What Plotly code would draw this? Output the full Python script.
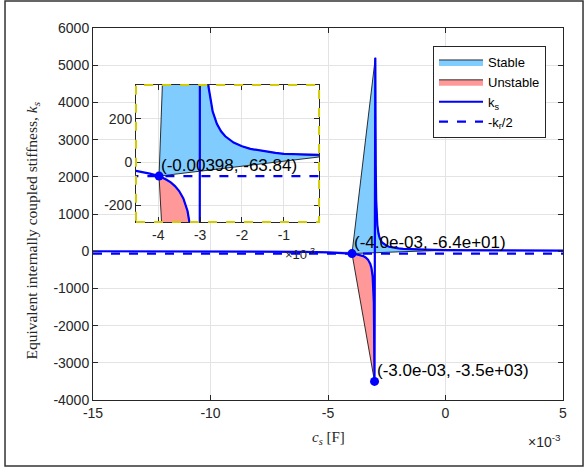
import plotly.graph_objects as go

# Coupling capacitance c_s (x 1e-3 F) and equivalent stiffness k_s, left branch (c_s < -3e-3)
c_left = [-15, -12, -10, -8, -7, -6, -5, -4.5, -4.2, -3.98, -3.8, -3.7, -3.6, -3.5,
          -3.4, -3.3, -3.2, -3.15, -3.1, -3.07, -3.05, -3.02]
k_left = [-0.7, -2.7, -4.8, -8.8, -12.2, -18, -29.5, -41, -52.4, -63.84, -81, -93, -110, -133,
          -167, -225, -340, -454, -684, -979, -1378, -3500]

# Right branch (c_s > -3e-3)
c_right = [-2.987, -2.98, -2.97, -2.95, -2.9, -2.85, -2.8, -2.7, -2.6, -2.5, -2.4, -2.2,
           -2.0, -1.8, -1.5, -1.2, -1.0, -0.5, 0, 1, 2, 3, 4, 5]
k_right = [5200, 3450, 2300, 1385, 695, 465, 350, 235, 178, 143, 120, 91,
           74, 62, 51, 43, 39, 33, 28, 22, 19, 16, 14, 13]

# -k_r/2 threshold and the marked points
kr_half = 63.84
cross_c, cross_k = -3.98, -63.84
tip_c, tip_k = -3.02, -3500

x_ticks = [-15, -10, -5, 0, 5]
y_ticks = [-4000, -3000, -2000, -1000, 0, 1000, 2000, 3000, 4000, 5000, 6000]
inset_x_ticks = [-4, -3, -2, -1]
inset_y_ticks = [-200, 0, 200]

BLUE = "#0000FF"
STABLE = "#80CCFF"
UNSTABLE = "#FF9999"
AX = "#262626"
GRID = "#E3E3E3"
SANS = "Liberation Sans, Arial, sans-serif"
SERIF = "Liberation Serif, Times New Roman, serif"

# Stable patch: crossing point -> right branch up to c_s = 0 -> back to crossing point
n0 = c_right.index(0)
stable_x = [cross_c] + c_right[:n0 + 1] + [cross_c]
stable_y = [cross_k] + k_right[:n0 + 1] + [cross_k]
# Unstable patch: crossing point -> left branch down to the asymptote
i0 = c_left.index(cross_c)
unstable_x = c_left[i0:] + [cross_c]
unstable_y = k_left[i0:] + [cross_k]

curve_x = c_left + c_right
curve_y = k_left + k_right

fig = go.Figure()


def add_set(xa, ya, legend, mk_points):
    fig.add_trace(go.Scatter(x=stable_x, y=stable_y, fill="toself", fillcolor=STABLE,
                             mode="lines", line=dict(color="black", width=0.8),
                             name="Stable", showlegend=legend, xaxis=xa, yaxis=ya,
                             hoverinfo="skip"))
    fig.add_trace(go.Scatter(x=unstable_x, y=unstable_y, fill="toself", fillcolor=UNSTABLE,
                             mode="lines", line=dict(color="black", width=0.8),
                             name="Unstable", showlegend=legend, xaxis=xa, yaxis=ya,
                             hoverinfo="skip"))
    fig.add_trace(go.Scatter(x=curve_x, y=curve_y, mode="lines",
                             line=dict(color=BLUE, width=2.2),
                             name="k<sub>s</sub>", showlegend=legend, xaxis=xa, yaxis=ya))
    fig.add_trace(go.Scatter(x=[-15, 5], y=[-kr_half, -kr_half], mode="lines",
                             line=dict(color=BLUE, width=2.2, dash="dash"),
                             name="-k<sub>r</sub>/2", showlegend=legend, xaxis=xa, yaxis=ya))
    fig.add_trace(go.Scatter(x=[p[0] for p in mk_points], y=[p[1] for p in mk_points],
                             mode="markers", marker=dict(color=BLUE, size=9),
                             showlegend=False, xaxis=xa, yaxis=ya))


add_set("x", "y", True, [(cross_c, cross_k), (tip_c, tip_k)])
add_set("x2", "y2", False, [(cross_c, cross_k)])

inset_dom_x = [0.0915, 0.481]
inset_dom_y = [0.4785, 0.8468]

axis_common = dict(showline=True, linecolor=AX, linewidth=1, mirror="ticks",
                   ticks="inside", ticklen=5, tickcolor=AX, showgrid=True,
                   gridcolor=GRID, gridwidth=1, zeroline=False,
                   tickfont=dict(family=SANS, size=14, color=AX))

fig.update_layout(
    width=585, height=468,
    margin=dict(l=93, r=22, t=28, b=68),
    paper_bgcolor="white", plot_bgcolor="white",
    showlegend=True,
    xaxis=dict(range=[-15, 5], tickvals=x_ticks, ticktext=[str(v) for v in x_ticks],
               domain=[0, 1], **axis_common),
    yaxis=dict(range=[-4000, 6000], tickvals=y_ticks, ticktext=[str(v) for v in y_ticks],
               domain=[0, 1], **axis_common),
    xaxis2=dict(range=[-4.53, -0.16], tickvals=inset_x_ticks,
                ticktext=[str(v) for v in inset_x_ticks], domain=inset_dom_x,
                anchor="y2", **axis_common),
    yaxis2=dict(range=[-276, 357], tickvals=inset_y_ticks,
                ticktext=[str(v) for v in inset_y_ticks], domain=inset_dom_y,
                anchor="x2", **axis_common),
    legend=dict(x=0.7234, y=0.9516, xanchor="left", yanchor="top",
                bgcolor="white", bordercolor=AX, borderwidth=1,
                font=dict(family=SANS, size=13, color="black"),
                itemwidth=44, tracegroupgap=0),
)

# Dashed frame around the inset and an outer frame around the figure
fig.add_shape(type="rect", xref="paper", yref="paper",
              x0=inset_dom_x[0], x1=inset_dom_x[1], y0=inset_dom_y[0], y1=inset_dom_y[1],
              line=dict(color="#D2CC00", width=2, dash="dash"), layer="above")
fig.add_shape(type="rect", xref="paper", yref="paper",
              x0=-0.1872, x1=1.0426, y0=-0.1774, y1=1.0726,
              line=dict(color="#333333", width=1.5), layer="above")

# Data tips
def tip_label(c, k, fmt):
    if fmt == "e":
        return f"({c * 1e-3:.1e}, {k:.1e})"
    return f"({c * 1e-3:g}, {k:g})"

for (c, k, xr, yr, fmt) in [(cross_c, cross_k, "x", "y", "e"),
                            (tip_c, tip_k, "x", "y", "e"),
                            (cross_c, cross_k, "x2", "y2", "g")]:
    fig.add_annotation(x=c, y=k, xref=xr, yref=yr, text=tip_label(c, k, fmt),
                       showarrow=False, xanchor="left", yanchor="middle",
                       xshift=0, yshift=11,
                       font=dict(family=SANS, size=17, color="black"))

# Axis titles and exponent labels
fig.add_annotation(x=0.5, y=-0.102, xref="paper", yref="paper", showarrow=False,
                   text="<i>c<sub>s</sub></i> [F]", xanchor="center", yanchor="middle",
                   font=dict(family=SERIF, size=15, color=AX))
fig.add_annotation(x=-0.128, y=0.455, xref="paper", yref="paper", showarrow=False,
                   text="Equivalent internally coupled stiffness, <i>k<sub>s</sub></i>",
                   textangle=-90, xanchor="center", yanchor="middle",
                   font=dict(family=SERIF, size=15.5, color=AX))
fig.add_annotation(x=1.0, y=-0.11, xref="paper", yref="paper", showarrow=False,
                   text="×10<sup>-3</sup>", xanchor="right", yanchor="middle",
                   font=dict(family=SANS, size=14, color=AX))
fig.add_annotation(x=0.4766, y=0.393, xref="paper", yref="paper", showarrow=False,
                   text="×10<sup>-3</sup>", xanchor="right", yanchor="middle",
                   font=dict(family=SANS, size=13, color=AX))

fig.write_html("out.html")
